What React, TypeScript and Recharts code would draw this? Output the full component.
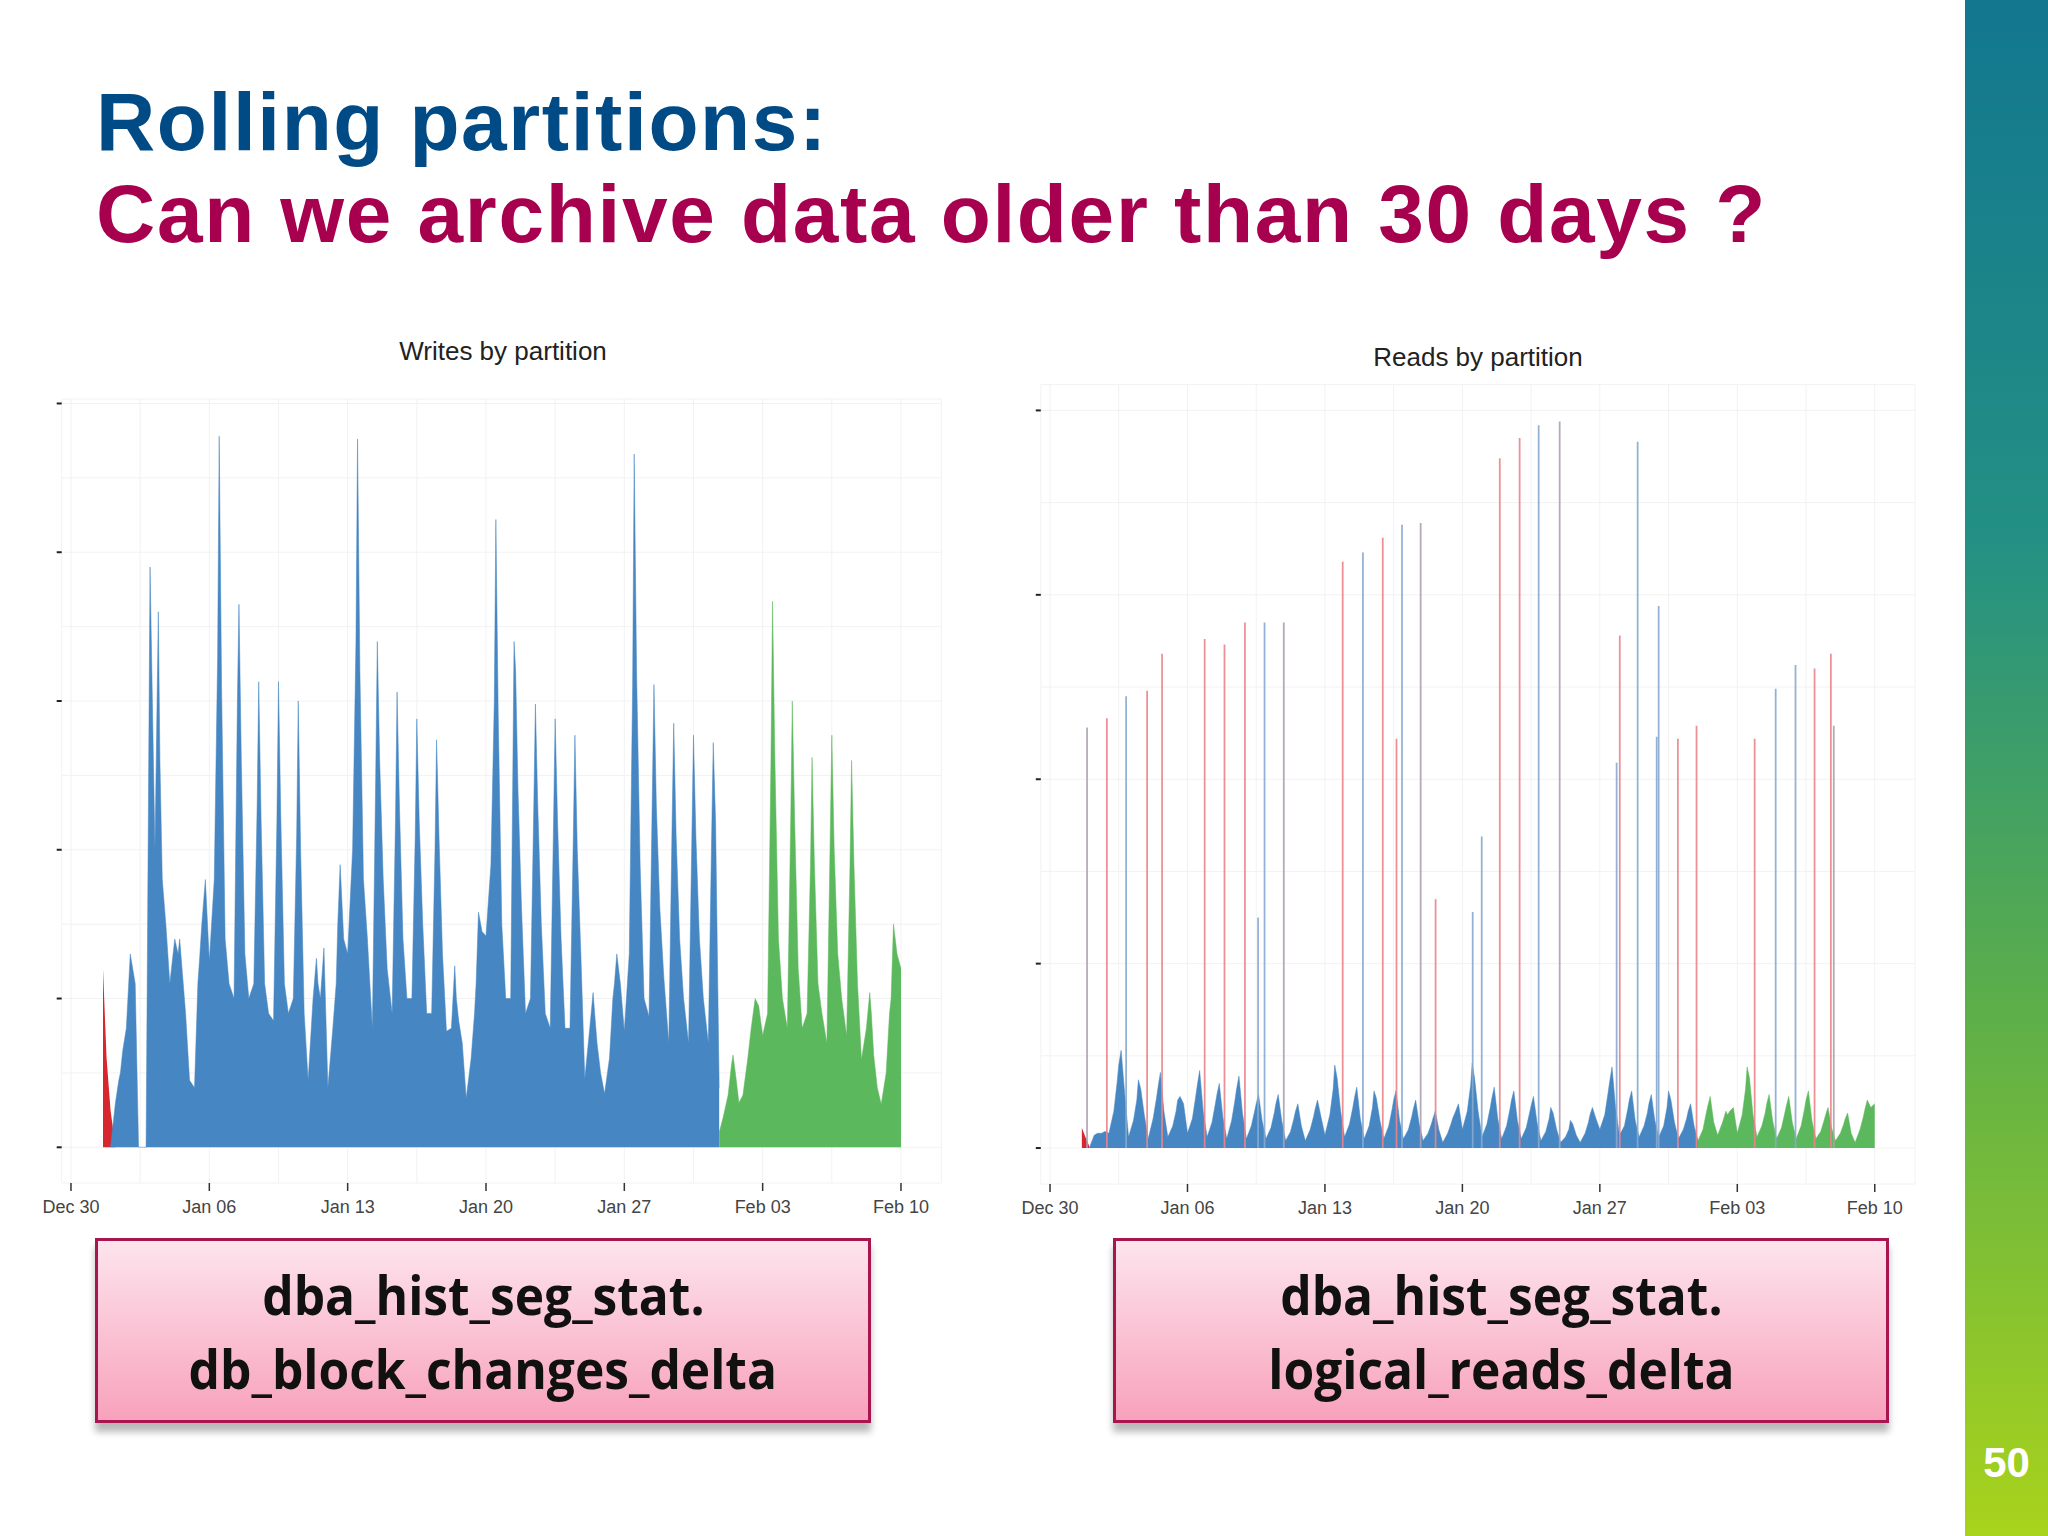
import { ComposedChart, Area, Bar, XAxis, YAxis, CartesianGrid } from "recharts";

// x is days since Dec 30, each day is sampled at these fractions
const SLOTS = [0, 0.25, 0.42, 0.5, 0.62, 0.8];
const TICK_DAYS = [0, 7, 14, 21, 28, 35, 42];
const TICK_LABELS = ["Dec 30", "Jan 06", "Jan 13", "Jan 20", "Jan 27", "Feb 03", "Feb 10"];
const GRID_DAYS = [0, 3.5, 7, 10.5, 14, 17.5, 21, 24.5, 28, 31.5, 35, 38.5, 42];

const WRITES_TICKS = [0, 1, 2, 3, 4, 5];
const WRITES_GRID = [0, 0.5, 1, 1.5, 2, 2.5, 3, 3.5, 4, 4.5, 5];
const READS_TICKS = [0, 1, 2, 3, 4];
const READS_GRID = [0, 0.5, 1, 1.5, 2, 2.5, 3, 3.5, 4];

// writes (db_block_changes_delta), one row per day
const writesRedStart = 1;
const writesRed = [
  [null, null, null, null, 1.2, 0.6],
  [0.25, 0],
];
const writesBlueStart = 2;
const writesBlue = [
  [0, 0.3, 0.45, 0.5, 0.65, 0.8],
  [1.3, 1.1, 0, 0, 0, 0],
  [3.9, 2.0, 3.6, 2.6, 1.8, 1.5],
  [1.1, 1.4, 1.3, 1.4, 1.2, 0.9],
  [0.45, 0.4, 1.1, 1.25, 1.5, 1.8],
  [1.25, 1.8, 3.3, 4.78, 3.1, 1.4],
  [1.1, 1.0, 3.0, 3.65, 2.6, 1.3],
  [1.0, 1.1, 2.3, 3.13, 2.2, 1.1],
  [0.9, 0.85, 2.2, 3.13, 2.2, 1.1],
  [0.9, 1.0, 2.1, 3.0, 2.0, 0.9],
  [0.45, 1.0, 1.27, 1.1, 1.0, 1.34],
  [0.4, 0.8, 1.1, 1.5, 1.9, 1.4],
  [1.3, 2.0, 3.4, 4.76, 3.2, 1.8],
  [1.4, 0.8, 2.5, 3.4, 2.6, 1.8],
  [1.2, 0.9, 2.2, 3.06, 2.3, 1.4],
  [1.0, 1.0, 2.1, 2.88, 2.2, 1.5],
  [0.9, 0.9, 2.0, 2.74, 2.1, 1.3],
  [0.78, 0.8, 1.22, 1.0, 0.85, 0.7],
  [0.33, 0.6, 0.9, 1.1, 1.58, 1.45],
  [1.42, 1.9, 3.0, 4.22, 2.9, 1.5],
  [1.0, 1.0, 3.4, 3.2, 2.4, 1.6],
  [0.9, 1.0, 2.3, 2.98, 2.3, 1.5],
  [0.9, 0.8, 2.2, 2.88, 2.2, 1.4],
  [0.8, 0.8, 2.1, 2.77, 2.0, 1.3],
  [0.46, 0.8, 1.04, 0.9, 0.7, 0.5],
  [0.36, 0.6, 1.0, 1.1, 1.3, 1.1],
  [0.78, 1.3, 3.1, 4.66, 3.2, 1.9],
  [1.0, 0.88, 2.4, 3.11, 2.3, 1.6],
  [1.14, 0.7, 2.2, 2.85, 2.1, 1.4],
  [1.0, 0.7, 2.1, 2.77, 2.1, 1.4],
  [1.0, 0.7, 2.1, 2.72, 2.18, 0.4],
];
const writesGreenStart = 32;
const writesGreen = [
  [null, null, null, null, null, 0.1],
  [0.2, 0.35, 0.55, 0.62, 0.5, 0.3],
  [0.35, 0.6, 0.8, 0.88, 1.0, 0.95],
  [0.75, 0.9, 2.6, 3.67, 2.6, 1.4],
  [1.0, 0.8, 2.2, 3.0, 2.2, 1.2],
  [0.8, 0.9, 1.9, 2.62, 1.9, 1.1],
  [0.9, 0.7, 2.1, 2.77, 2.0, 1.3],
  [1.0, 0.75, 1.9, 2.6, 1.9, 1.1],
  [0.59, 0.8, 1.04, 0.9, 0.62, 0.4],
  [0.29, 0.5, 0.9, 1.0, 1.5, 1.3],
  [1.2],
];

// reads (logical_reads_delta), one row per day
const readsRedStart = 1;
const readsRed = [
  [null, null, null, null, 0.11, 0.06],
  [0.01],
];
const readsBlueStart = 2;
const readsBlue = [
  [0, 0.07, 0.08, 0.08, 0.08, 0.09],
  [0.08, 0.2, 0.36, 0.45, 0.53, 0.3],
  [0.06, 0.15, 0.26, 0.37, 0.32, 0.18],
  [0.05, 0.16, 0.27, 0.33, 0.41, 0.2],
  [0.06, 0.12, 0.2, 0.26, 0.28, 0.24],
  [0.08, 0.16, 0.28, 0.34, 0.42, 0.2],
  [0.06, 0.14, 0.24, 0.29, 0.35, 0.17],
  [0.05, 0.15, 0.26, 0.32, 0.39, 0.19],
  [0.05, 0.12, 0.2, 0.24, 0.29, 0.15],
  [0.05, 0.11, 0.19, 0.24, 0.29, 0.15],
  [0.04, 0.09, 0.16, 0.2, 0.24, 0.12],
  [0.04, 0.1, 0.17, 0.21, 0.26, 0.17],
  [0.07, 0.18, 0.32, 0.45, 0.38, 0.2],
  [0.06, 0.13, 0.22, 0.27, 0.33, 0.16],
  [0.05, 0.12, 0.22, 0.31, 0.27, 0.15],
  [0.05, 0.12, 0.21, 0.26, 0.31, 0.15],
  [0.05, 0.1, 0.17, 0.21, 0.26, 0.13],
  [0.04, 0.08, 0.13, 0.16, 0.2, 0.1],
  [0.03, 0.08, 0.13, 0.16, 0.19, 0.24],
  [0.1, 0.2, 0.34, 0.46, 0.38, 0.2],
  [0.06, 0.13, 0.22, 0.27, 0.33, 0.16],
  [0.05, 0.12, 0.21, 0.26, 0.31, 0.15],
  [0.05, 0.11, 0.19, 0.23, 0.28, 0.14],
  [0.04, 0.09, 0.16, 0.22, 0.19, 0.1],
  [0.03, 0.06, 0.1, 0.15, 0.13, 0.07],
  [0.03, 0.08, 0.14, 0.18, 0.22, 0.16],
  [0.1, 0.18, 0.3, 0.36, 0.44, 0.22],
  [0.07, 0.12, 0.21, 0.26, 0.31, 0.15],
  [0.06, 0.12, 0.19, 0.24, 0.29, 0.15],
  [0.06, 0.12, 0.22, 0.31, 0.26, 0.14],
  [0.05, 0.1, 0.16, 0.2, 0.24, 0.12],
  [0.04],
];
const readsGreenStart = 33;
const readsGreen = [
  [0.04, 0.1, 0.19, 0.23, 0.28, 0.14],
  [0.07, 0.14, 0.2, 0.18, 0.2, 0.22],
  [0.08, 0.18, 0.32, 0.44, 0.38, 0.18],
  [0.06, 0.12, 0.19, 0.24, 0.29, 0.15],
  [0.05, 0.11, 0.19, 0.23, 0.28, 0.14],
  [0.05, 0.12, 0.21, 0.26, 0.31, 0.15],
  [0.05, 0.09, 0.15, 0.18, 0.22, 0.11],
  [0.04, 0.08, 0.13, 0.16, 0.19, 0.08],
  [0.03, 0.1, 0.17, 0.21, 0.26, 0.22],
  [0.24],
];

// thin one-hour spikes in the reads chart: [day, value]
const readsSpikesRed = [
  [2.9, 2.33], [4.95, 2.48], [5.71, 2.68], [7.88, 2.76], [8.89, 2.73], [9.93, 2.85],
  [14.91, 3.18], [16.95, 3.31], [17.65, 2.22], [19.64, 1.35], [22.91, 3.74], [23.92, 3.85],
  [29.02, 2.78], [31.98, 2.22], [32.93, 2.29], [35.89, 2.22], [38.94, 2.6], [39.77, 2.68],
];
const readsSpikesBlue = [
  [3.88, 2.45], [10.6, 1.25], [10.93, 2.85], [15.94, 3.23], [17.93, 3.38], [21.53, 1.28],
  [21.99, 1.69], [24.89, 3.92], [28.86, 2.09], [29.93, 3.83], [30.9, 2.23], [31.0, 2.94],
  [36.96, 2.49], [37.97, 2.62],
];
const readsSpikesGray = [
  [1.89, 2.28], [11.91, 2.85], [18.88, 3.39], [25.96, 3.94], [39.92, 2.29],
];

type Block = { key: string; start: number; rows: (number | null)[][] };

function buildTable(blocks: Block[]) {
  const map = new Map<string, Record<string, number>>();
  blocks.forEach((b) => {
    b.rows.forEach((row, i) => {
      row.forEach((v, j) => {
        if (v === null || v === undefined) return;
        const x = +(b.start + i + SLOTS[j]).toFixed(3);
        const rec = map.get(String(x)) ?? { x };
        rec[b.key] = v;
        map.set(String(x), rec);
      });
    });
  });
  return [...map.values()].sort((a, b) => a.x - b.x);
}

function spikeTable(groups: { key: string; points: number[][] }[]) {
  const rows: Record<string, number>[] = [];
  groups.forEach((g) => g.points.forEach(([x, v]) => rows.push({ x, [g.key]: v })));
  return rows.sort((a, b) => a.x - b.x);
}

const writesData = buildTable([
  { key: "red", start: writesRedStart, rows: writesRed },
  { key: "blue", start: writesBlueStart, rows: writesBlue },
  { key: "green", start: writesGreenStart, rows: writesGreen },
]);
const readsData = buildTable([
  { key: "red", start: readsRedStart, rows: readsRed },
  { key: "blue", start: readsBlueStart, rows: readsBlue },
  { key: "green", start: readsGreenStart, rows: readsGreen },
]);
const spikesData = spikeTable([
  { key: "sRed", points: readsSpikesRed },
  { key: "sBlue", points: readsSpikesBlue },
  { key: "sGray", points: readsSpikesGray },
]);

const RED = "#d7262d";
const BLUE = "#4687c3";
const GREEN = "#5cb85c";
const FONT = "'Liberation Sans', Arial, sans-serif";

const CW = 960;
const CH = 920;
const YW = 20;
const XH = 57;

type Geo = { left: number; top: number; right: number; bottom: number; xDomain: number[]; yDomain: number[] };

function Partitions({ data, geo, yTicks, yGrid, spikes }: { data: any[]; geo: Geo; yTicks: number[]; yGrid: number[]; spikes?: any[] }) {
  const margin = { left: geo.left - YW, top: geo.top, right: geo.right, bottom: geo.bottom - XH };
  return (
    <div style={{ position: "relative", width: CW, height: CH }}>
      <div style={{ position: "absolute", left: 0, top: 0 }}>
        <ComposedChart width={CW} height={CH} data={data} margin={margin}>
          <XAxis xAxisId="g" dataKey="x" type="number" domain={geo.xDomain} ticks={GRID_DAYS} allowDataOverflow hide />
          <YAxis yAxisId="g" type="number" domain={geo.yDomain} ticks={yGrid} allowDataOverflow hide />
          <CartesianGrid xAxisId="g" yAxisId="g" stroke="#f2f2f2" strokeWidth={1} />
          <XAxis
            dataKey="x"
            type="number"
            domain={geo.xDomain}
            ticks={TICK_DAYS}
            allowDataOverflow
            height={XH}
            axisLine={false}
            tickSize={8}
            tickMargin={9}
            tickLine={{ stroke: "#333", strokeWidth: 1.5 }}
            tick={{ fill: "#444", fontSize: 18, fontFamily: FONT }}
            tickFormatter={(v: number) => TICK_LABELS[TICK_DAYS.indexOf(v)]}
          />
          <YAxis
            type="number"
            domain={geo.yDomain}
            ticks={yTicks}
            allowDataOverflow
            width={YW}
            axisLine={false}
            tickSize={5}
            tickLine={{ stroke: "#222", strokeWidth: 2 }}
            tick={{ fontSize: 1, fill: "none" }}
            tickFormatter={() => ""}
          />
          <Area type="linear" dataKey="red" stroke="none" fill={RED} fillOpacity={1} baseValue={0} connectNulls isAnimationActive={false} />
          <Area type="linear" dataKey="blue" stroke={BLUE} strokeWidth={0.5} fill={BLUE} fillOpacity={1} baseValue={0} connectNulls isAnimationActive={false} />
          <Area type="linear" dataKey="green" stroke={GREEN} strokeWidth={0.5} fill={GREEN} fillOpacity={1} baseValue={0} connectNulls isAnimationActive={false} />
        </ComposedChart>
      </div>
      {spikes && (
        <div style={{ position: "absolute", left: 0, top: 0 }}>
          <ComposedChart width={CW} height={CH} data={spikes} margin={{ left: geo.left, top: geo.top, right: geo.right, bottom: geo.bottom }}>
            <XAxis dataKey="x" type="number" domain={geo.xDomain} allowDataOverflow hide />
            <YAxis type="number" domain={geo.yDomain} allowDataOverflow hide />
            <Bar dataKey="sRed" stackId="s" fill="#e9848a" fillOpacity={0.9} barSize={2} isAnimationActive={false} />
            <Bar dataKey="sBlue" stackId="s" fill="#86a9d0" fillOpacity={0.9} barSize={2} isAnimationActive={false} />
            <Bar dataKey="sGray" stackId="s" fill="#ad9fb0" fillOpacity={0.9} barSize={2} isAnimationActive={false} />
          </ComposedChart>
        </div>
      )}
    </div>
  );
}

const writesGeo: Geo = { left: 41.7, top: 79, right: 38.7, bottom: 57, xDomain: [-0.47, 44.04], yDomain: [-0.24, 5.03] };
const readsGeo: Geo = { left: 40.8, top: 64.6, right: 45, bottom: 56, xDomain: [-0.47, 44.05], yDomain: [-0.195, 4.14] };

function InfoBox({ left, lines }: { left: number; lines: string[] }) {
  return (
    <div
      style={{
        position: "absolute",
        left,
        top: 1238,
        width: 776,
        height: 185,
        boxSizing: "border-box",
        border: "3px solid #a8154f",
        background: "linear-gradient(#fde4ed, #f8a2bc)",
        boxShadow: "0 9px 7px rgba(0,0,0,0.28)",
        display: "flex",
        flexDirection: "column",
        alignItems: "center",
        justifyContent: "center",
        fontFamily: "'Open Sans', sans-serif",
        fontWeight: 700,
        fontSize: 54,
        lineHeight: "74px",
        color: "#111",
      }}
    >
      {lines.map((l) => (
        <div key={l} style={{ transform: "scaleX(0.92)", whiteSpace: "nowrap" }}>{l}</div>
      ))}
    </div>
  );
}

export default function App() {
  return (
    <div style={{ position: "absolute", left: 0, top: 0, width: 2048, height: 1536, background: "#fff", overflow: "hidden", fontFamily: FONT }}>
      <div style={{ position: "absolute", left: 96, top: 76, fontSize: 82, lineHeight: "92px", fontWeight: 700, whiteSpace: "nowrap" }}>
        <div style={{ color: "#004a85", letterSpacing: 1.6 }}>Rolling partitions:</div>
        <div style={{ color: "#a6004f", letterSpacing: 1.67 }}>Can we archive data older than 30 days ?</div>
      </div>

      <div style={{ position: "absolute", left: 303, top: 336, width: 400, textAlign: "center", fontSize: 26, color: "#222" }}>
        Writes by partition
      </div>
      <div style={{ position: "absolute", left: 1278, top: 342, width: 400, textAlign: "center", fontSize: 26, color: "#222" }}>
        Reads by partition
      </div>

      <div style={{ position: "absolute", left: 20, top: 320 }}>
        <Partitions data={writesData} geo={writesGeo} yTicks={WRITES_TICKS} yGrid={WRITES_GRID} />
      </div>
      <div style={{ position: "absolute", left: 1000, top: 320 }}>
        <Partitions data={readsData} geo={readsGeo} yTicks={READS_TICKS} yGrid={READS_GRID} spikes={spikesData} />
      </div>

      <InfoBox left={95} lines={["dba_hist_seg_stat.", "db_block_changes_delta"]} />
      <InfoBox left={1113} lines={["dba_hist_seg_stat.", "logical_reads_delta"]} />

      <div
        style={{
          position: "absolute",
          left: 1965,
          top: 0,
          width: 83,
          height: 1536,
          background: "linear-gradient(#12778f 0%, #239084 35%, #5bae4a 65%, #a9d31b 100%)",
        }}
      />
      <div style={{ position: "absolute", left: 1965, top: 1439, width: 83, textAlign: "center", fontSize: 42, fontWeight: 700, color: "#fff", lineHeight: "48px" }}>
        50
      </div>
    </div>
  );
}
